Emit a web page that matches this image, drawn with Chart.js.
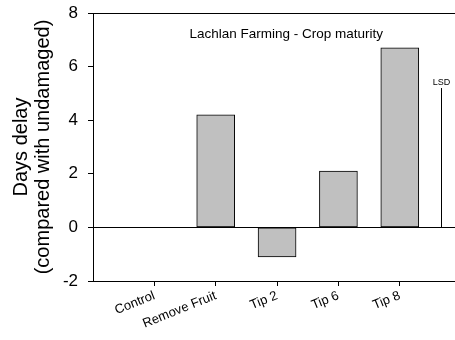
<!DOCTYPE html>
<html>
<head>
<meta charset="utf-8">
<script src="https://cdn.jsdelivr.net/npm/chart.js@4.4.0/dist/chart.umd.min.js"></script>
<style>
  html, body { margin: 0; padding: 0; background: #fff; overflow: hidden; }
  #wrap { width: 455px; height: 340px; }
</style>
</head>
<body>
<div id="wrap"><canvas id="c" width="455" height="340"></canvas></div>
<script>
const categories = ['Control', 'Remove Fruit', 'Tip 2', 'Tip 6', 'Tip 8'];
const delayDays = [0, 4.2, -1.1, 2.1, 6.7];
const yTicks = [-2, 0, 2, 4, 6, 8];
const lsdValue = 5.2;
const lsdPosition = 4.68;
const chartTitle = 'Lachlan Farming - Crop maturity';
const yTitle = ['Days delay', '(compared with undamaged)'];

const FONT = "'Liberation Sans', Arial, sans-serif";

const overlay = {
  id: 'overlay',
  afterDatasetsDraw(chart) {
    const { ctx, scales } = chart;
    ctx.save();
    ctx.fillStyle = '#000';
    ctx.font = '13.5px ' + FONT;
    ctx.textAlign = 'center';
    ctx.textBaseline = 'middle';
    ctx.fillText(chartTitle, scales.x.getPixelForValue(2.15), scales.y.getPixelForValue(7.2));
    ctx.font = '9px ' + FONT;
    ctx.textBaseline = 'bottom';
    ctx.fillText('LSD', scales.x.getPixelForValue(lsdPosition), scales.y.getPixelForValue(lsdValue) - 1);
    ctx.restore();
  }
};

new Chart(document.getElementById('c'), {
  type: 'bar',
  data: {
    datasets: [
      {
        type: 'bar',
        data: delayDays.map((v, i) => ({ x: i, y: v })),
        backgroundColor: '#c0c0c0',
        borderColor: '#000',
        borderWidth: 1,
        barThickness: 38,
        borderSkipped: false
      },
      {
        type: 'line',
        data: [{ x: lsdPosition, y: 0 }, { x: lsdPosition, y: lsdValue }],
        borderColor: '#000',
        borderWidth: 1,
        pointRadius: 0,
        fill: false
      }
    ]
  },
  options: {
    responsive: false,
    animation: false,
    layout: { padding: { top: 13, right: 0, left: 0, bottom: 0 } },
    plugins: { legend: { display: false }, tooltip: { enabled: false } },
    scales: {
      x: {
        type: 'linear',
        offset: false,
        min: -1,
        max: 4.9,
        afterBuildTicks(scale) { scale.ticks = categories.map((c, i) => ({ value: i })); },
        afterFit(scale) { scale.height = 59; scale.paddingLeft = 0; scale.paddingRight = 0; },
        ticks: {
          callback: (v) => categories[v],
          color: '#000',
          font: { family: FONT, size: 13 },
          minRotation: 22,
          maxRotation: 22,
          padding: 2
        },
        grid: { offset: false, drawOnChartArea: false, drawTicks: true, tickLength: 5, tickColor: '#000', color: '#000' },
        border: { display: true, color: '#000', width: 1 }
      },
      y: {
        min: -2,
        max: 8,
        afterBuildTicks(scale) { scale.ticks = yTicks.map(v => ({ value: v })); },
        afterFit(scale) { scale.width = 93; scale.paddingTop = 0; scale.paddingBottom = 0; },
        ticks: {
          color: '#000',
          font: { family: FONT, size: 17 },
          padding: 10
        },
        title: {
          display: true,
          text: yTitle,
          color: '#000',
          font: { family: FONT, size: 20, lineHeight: 1.1 },
          padding: { top: 10, bottom: 0 }
        },
        grid: {
          color: (c) => (c.tick && (c.tick.value === 0 || c.tick.value === 8)) ? '#000' : 'rgba(0,0,0,0)',
          tickColor: '#000',
          tickLength: 5,
          lineWidth: 1
        },
        border: { display: true, color: '#000', width: 1 }
      }
    }
  },
  plugins: [overlay]
});
</script>
</body>
</html>
